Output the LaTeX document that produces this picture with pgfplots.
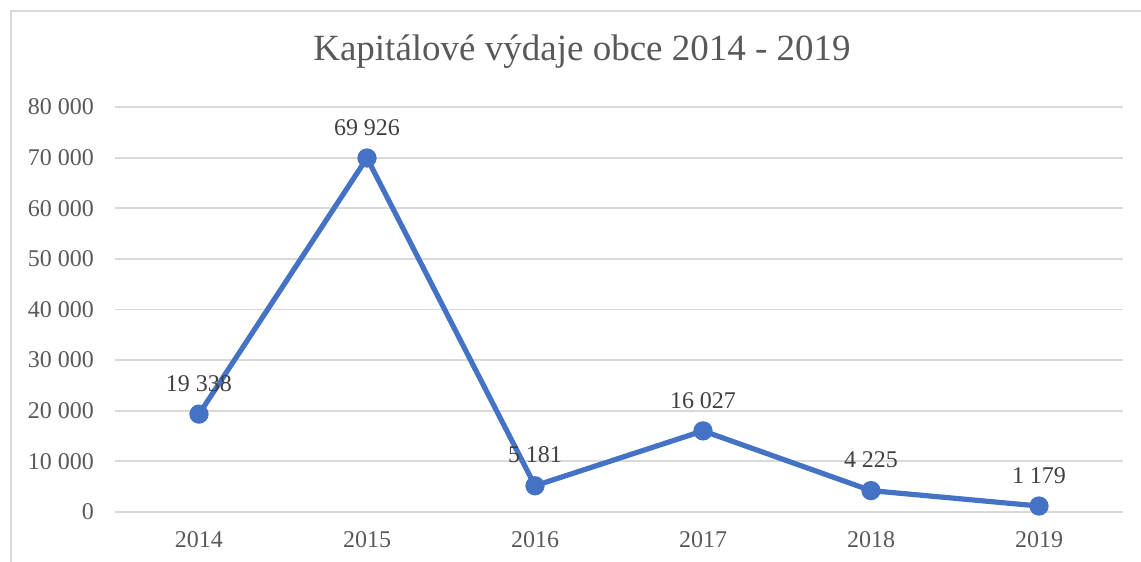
\documentclass[border=0pt]{standalone}
\usepackage{fontspec}
\setmainfont{Liberation Serif}
\usepackage{pgfplots}
\pgfplotsset{compat=1.18}
\definecolor{xlblue}{HTML}{4472C4}
\definecolor{xlgrid}{HTML}{D9D9D9}
\definecolor{xltext}{HTML}{595959}
\definecolor{xllabel}{HTML}{404040}
\begin{document}
\begin{tikzpicture}
% picture frame: 1141 x 562 px at 0.5pt per px
\path[use as bounding box] (0pt,0pt) rectangle (570.5pt,281pt);
\draw[xlgrid,line width=0.8pt] (5.5pt,0pt) -- (5.5pt,275.5pt) -- (570.5pt,275.5pt);
\node[text=xltext,font=\fontsize{18.5}{22}\selectfont] at (291pt,255pt) {Kapitálové výdaje obce 2014 - 2019};
\begin{axis}[
at={(57.5pt,25pt)},anchor=south west,
scale only axis,width=504pt,height=202.5pt,
xmin=-0.5,xmax=5.5,ymin=0,ymax=80000,
axis line style={draw=none},
ymajorgrids,grid style={xlgrid,line width=0.9pt},
xtick={0,...,5},xticklabels={2014,2015,2016,2017,2018,2019},
ytick={0,10000,...,80000},
major tick length=0pt,
tick label style={font=\fontsize{12}{14}\selectfont,text=xltext},
yticklabel style={/pgf/number format/1000 sep={\ },/pgf/number format/assume math mode=true,xshift=-7pt},
xticklabel style={yshift=-6pt},
scaled y ticks=false,
clip=false,
nodes near coords,point meta=explicit symbolic,
every node near coord/.append style={font=\fontsize{12}{14}\selectfont,text=xllabel,anchor=south,inner sep=0pt,yshift=10pt},
]
\addplot[xlblue,line width=2.6pt,mark=*,mark size=3.5pt] coordinates {
(0,19338) [19 338]
(1,69926) [69 926]
(2,5181) [5 181]
(3,16027) [16 027]
(4,4225) [4 225]
(5,1179) [1 179]
};
\end{axis}
\end{tikzpicture}
\end{document}
